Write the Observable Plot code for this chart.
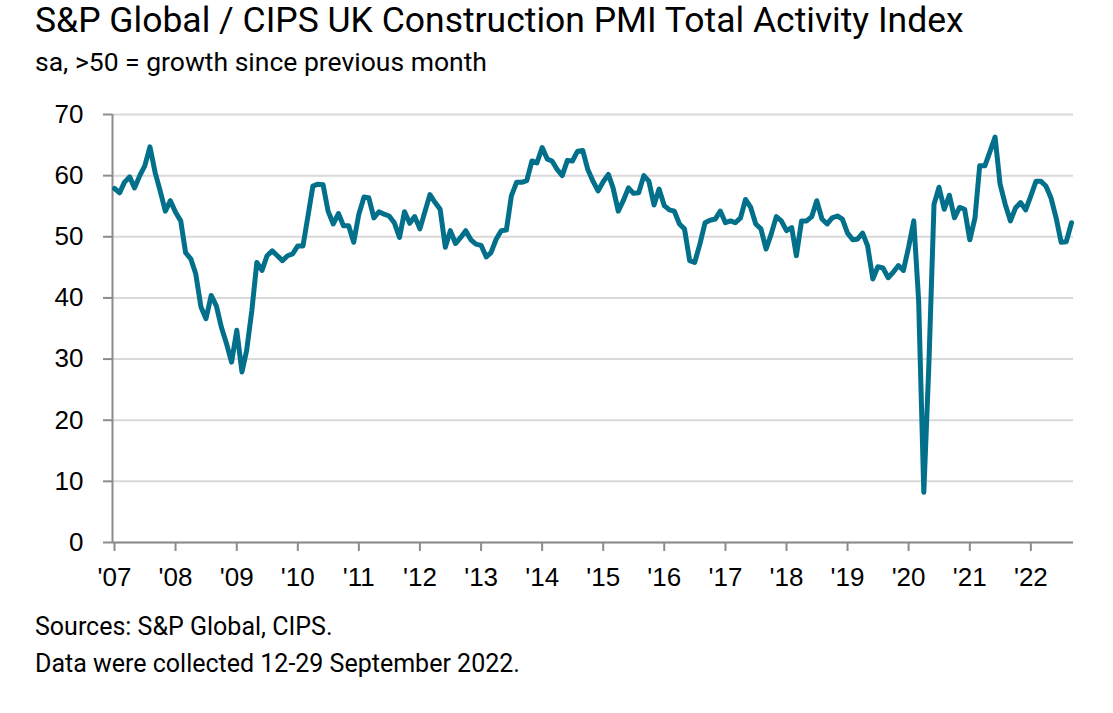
<!DOCTYPE html>
<html>
<head>
<meta charset="utf-8">
<script src="https://cdn.jsdelivr.net/npm/d3@7"></script>
<script src="https://cdn.jsdelivr.net/npm/@observablehq/plot@0.6"></script>
<style>
  html, body { margin: 0; padding: 0; background: #fff; }
  #wrap { position: relative; width: 1113px; height: 713px; overflow: hidden; }
  .t { position: absolute; left: 35px; font-family: Roboto, "Noto Sans", sans-serif; color: #000; white-space: nowrap; line-height: 1; }
  #title { top: 3px; font-size: 35.5px; }
  #subtitle { top: 49px; font-size: 26.5px; }
  #src { top: 614px; font-size: 25px; }
  #note { top: 651px; font-size: 25px; }
  #chart { position: absolute; left: 0; top: 90px; }
</style>
</head>
<body>
<div id="wrap">
  <div class="t" id="title">S&amp;P Global / CIPS UK Construction PMI Total Activity Index</div>
  <div class="t" id="subtitle">sa, &gt;50 = growth since previous month</div>
  <div id="chart"></div>
  <div class="t" id="src">Sources: S&amp;P Global, CIPS.</div>
  <div class="t" id="note">Data were collected 12-29 September 2022.</div>
</div>
<script>
// Monthly index values, January to December of each year
const pmi2007 = [57.9, 57.2, 58.9, 59.8, 58.0, 60.0, 61.6, 64.7, 60.5, 57.5, 54.2, 55.9];
const pmi2008 = [54.0, 52.6, 47.4, 46.4, 43.9, 38.5, 36.6, 40.4, 38.7, 35.2, 32.5, 29.5];
const pmi2009 = [34.7, 27.9, 31.4, 37.9, 45.8, 44.5, 46.9, 47.7, 46.9, 46.1, 46.9, 47.2];
const pmi2010 = [48.5, 48.5, 53.1, 58.3, 58.6, 58.5, 54.2, 52.1, 53.8, 51.8, 51.8, 49.1];
const pmi2011 = [53.7, 56.5, 56.4, 53.1, 54.1, 53.7, 53.4, 52.3, 49.9, 54.1, 52.2, 53.3];
const pmi2012 = [51.3, 54.2, 56.9, 55.6, 54.5, 48.3, 51.0, 48.9, 49.9, 51.0, 49.5, 48.8];
const pmi2013 = [48.6, 46.7, 47.4, 49.6, 51.0, 51.1, 56.7, 58.9, 58.9, 59.2, 62.4, 62.1];
const pmi2014 = [64.6, 62.7, 62.4, 61.0, 60.0, 62.5, 62.4, 64.0, 64.1, 61.0, 59.1, 57.5];
const pmi2015 = [59.0, 60.2, 58.0, 54.2, 55.9, 58.0, 57.1, 57.2, 60.0, 59.1, 55.2, 57.8];
const pmi2016 = [55.1, 54.4, 54.2, 52.1, 51.3, 46.1, 45.8, 48.8, 52.3, 52.7, 52.9, 54.2];
const pmi2017 = [52.3, 52.6, 52.3, 53.1, 56.1, 54.8, 52.1, 51.3, 48.0, 50.4, 53.3, 52.6];
const pmi2018 = [51.0, 51.5, 46.9, 52.6, 52.6, 53.3, 55.9, 52.9, 52.1, 53.1, 53.4, 52.9];
const pmi2019 = [50.6, 49.5, 49.6, 50.6, 48.5, 43.1, 45.1, 44.9, 43.3, 44.2, 45.3, 44.5];
const pmi2020 = [48.3, 52.6, 39.6, 8.2, 28.9, 55.3, 58.1, 54.5, 56.8, 53.1, 54.8, 54.5];
const pmi2021 = [49.5, 53.1, 61.6, 61.6, 63.9, 66.3, 58.6, 55.3, 52.6, 54.7, 55.6, 54.4];
const pmi2022 = [56.7, 59.1, 59.1, 58.3, 56.4, 53.1, 49.1, 49.2, 52.3];

const seriesYears = [2007, 2008, 2009, 2010, 2011, 2012, 2013, 2014, 2015, 2016, 2017, 2018, 2019, 2020, 2021, 2022];
const seriesValues = [pmi2007, pmi2008, pmi2009, pmi2010, pmi2011, pmi2012, pmi2013, pmi2014,
                      pmi2015, pmi2016, pmi2017, pmi2018, pmi2019, pmi2020, pmi2021, pmi2022];
const xTickLabels = ["'07", "'08", "'09", "'10", "'11", "'12", "'13", "'14",
                     "'15", "'16", "'17", "'18", "'19", "'20", "'21", "'22"];
const yTicks = [0, 10, 20, 30, 40, 50, 60, 70];

const data = seriesValues.flatMap((vals, k) =>
  vals.map((v, m) => ({date: new Date(seriesYears[k], m, 1), value: v})));
const xTicks = seriesYears.map(y => new Date(y, 0, 1));

const xStart = new Date(2006, 11, 20);
const xEnd = new Date(2022, 8, 13);
const axisGrey = "#8c8c8c";

const chart = Plot.plot({
  width: 1113,
  height: 520,
  marginLeft: 112,
  marginRight: 40,
  marginTop: 24,
  marginBottom: 68,
  style: {fontFamily: "'Liberation Sans', Arial, sans-serif", background: "transparent", overflow: "visible"},
  x: {type: "time", domain: [xStart, xEnd]},
  y: {domain: [0, 70]},
  marks: [
    Plot.gridY(yTicks, {stroke: "#d9d9d9", strokeOpacity: 1, strokeWidth: 2}),
    Plot.ruleY([0], {stroke: axisGrey, strokeWidth: 2}),
    Plot.ruleX([xStart], {stroke: axisGrey, strokeWidth: 2}),
    Plot.axisY(yTicks, {tickSize: 9, tickPadding: 20, fontSize: 26, stroke: axisGrey, strokeWidth: 2, fill: "#000", label: null, tickFormat: d => String(d)}),
    Plot.axisX(xTicks, {tickSize: 9, tickPadding: 16, fontSize: 26, stroke: axisGrey, strokeWidth: 2, fill: "#000", label: null,
      tickFormat: d => xTickLabels[seriesYears.indexOf(d.getFullYear())]}),
    Plot.lineY(data, {x: "date", y: "value", stroke: "#02708a", strokeWidth: 5, strokeLinejoin: "round", strokeLinecap: "round"})
  ]
});
document.getElementById("chart").appendChild(chart);
</script>
</body>
</html>
